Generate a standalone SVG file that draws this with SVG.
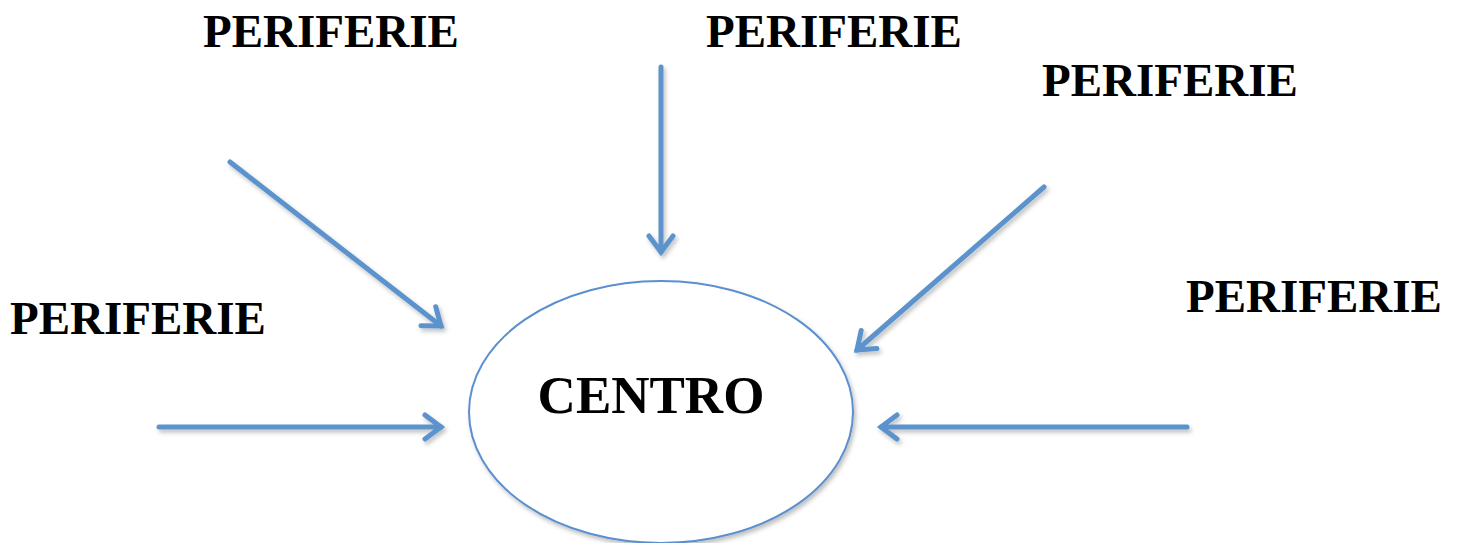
<svg xmlns="http://www.w3.org/2000/svg" width="1460" height="543" viewBox="0 0 1460 543">
<style>
.lbl{font-family:"Liberation Serif","Times New Roman",serif;font-weight:bold;font-size:47px;fill:#000}
.conn{stroke:#5b93cc;stroke-width:5;fill:none;stroke-linecap:round;marker-end:url(#chev)}
</style>
<defs>
<marker id="chev" viewBox="-6 -6 12 12" refX="0" refY="0" markerWidth="12" markerHeight="12" markerUnits="userSpaceOnUse" orient="auto" overflow="visible">
<path d="M-16,-12 L0,0 L-16,12" fill="none" stroke="#5b93cc" stroke-width="5" stroke-linecap="round" stroke-linejoin="miter"/>
</marker>
<filter id="sh" x="-20%" y="-20%" width="140%" height="140%">
<feDropShadow dx="2" dy="3" stdDeviation="2" flood-color="#000" flood-opacity="0.25"/>
</filter>
</defs>
<g id="centro" filter="url(#sh)">
<ellipse cx="661" cy="412" rx="192" ry="131" fill="#fff" stroke="#5b8fcf" stroke-width="2"/>
<text class="lbl" x="651" y="413" text-anchor="middle" style="font-size:53px">CENTRO</text>
</g>
<g id="p1"><text class="lbl" x="203" y="47">PERIFERIE</text></g>
<g id="p2"><text class="lbl" x="706" y="47">PERIFERIE</text></g>
<g id="p3"><text class="lbl" x="1042" y="96">PERIFERIE</text></g>
<g id="p4"><text class="lbl" x="10" y="334">PERIFERIE</text></g>
<g id="p5"><text class="lbl" x="1186" y="312">PERIFERIE</text></g>
<g id="connectors" filter="url(#sh)">
<line class="conn" x1="230" y1="162" x2="441" y2="326"/>
<line class="conn" x1="661" y1="67" x2="661" y2="252"/>
<line class="conn" x1="1044" y1="187" x2="857" y2="350"/>
<line class="conn" x1="159" y1="427" x2="441" y2="427"/>
<line class="conn" x1="1187" y1="427" x2="881" y2="427"/>
</g>
</svg>
